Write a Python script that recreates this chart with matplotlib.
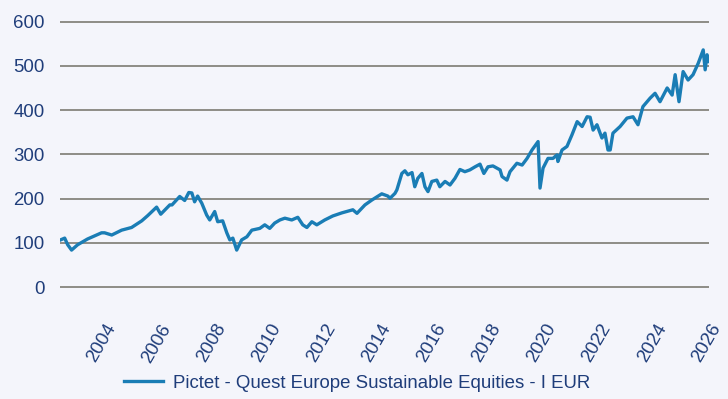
import matplotlib
matplotlib.use("Agg")
import matplotlib.pyplot as plt
import matplotlib.transforms as mtransforms

plt.rcParams['font.family'] = ['Liberation Sans', 'DejaVu Sans']

# fund price index, decimal year vs. value (rebased to 100)
years = [
    2002.80, 2002.95, 2003.06, 2003.20, 2003.42, 2003.78, 2004.29, 2004.40, 2004.66, 2005.02,
    2005.38, 2005.75, 2005.97, 2006.29, 2006.44, 2006.77, 2006.85, 2007.13, 2007.31, 2007.46,
    2007.57, 2007.67, 2007.78, 2007.93, 2008.11, 2008.22, 2008.40, 2008.51, 2008.69, 2008.84,
    2008.95, 2009.06, 2009.20, 2009.38, 2009.57, 2009.75, 2010.04, 2010.22, 2010.40, 2010.58,
    2010.77, 2010.95, 2011.20, 2011.42, 2011.60, 2011.75, 2011.93, 2012.11, 2012.40, 2012.69,
    2013.02, 2013.42, 2013.57, 2013.86, 2014.11, 2014.47, 2014.69, 2014.77, 2014.95, 2015.02,
    2015.20, 2015.31, 2015.42, 2015.57, 2015.67, 2015.78, 2015.93, 2016.04, 2016.15, 2016.29,
    2016.47, 2016.58, 2016.77, 2016.95, 2017.13, 2017.31, 2017.49, 2017.67, 2017.86, 2018.04,
    2018.18, 2018.33, 2018.51, 2018.77, 2018.84, 2019.02, 2019.13, 2019.38, 2019.57, 2019.75,
    2019.93, 2020.15, 2020.22, 2020.33, 2020.51, 2020.69, 2020.84, 2020.87, 2021.02, 2021.20,
    2021.38, 2021.57, 2021.75, 2021.93, 2022.04, 2022.15, 2022.29, 2022.47, 2022.58, 2022.69,
    2022.77, 2022.87, 2023.13, 2023.38, 2023.60, 2023.78, 2023.96, 2024.22, 2024.40, 2024.58,
    2024.84, 2025.02, 2025.13, 2025.27, 2025.42, 2025.60, 2025.78, 2025.97, 2026.15, 2026.22,
    2026.29, 2026.36,
]
values = [
    107, 111, 96, 84, 96, 109, 123, 123, 118, 129,
    135, 150, 162, 181, 165, 186, 186, 205, 196, 214,
    213, 193, 206, 190, 163, 152, 171, 148, 150, 123,
    107, 111, 84, 107, 114, 129, 133, 141, 133, 145,
    152, 156, 152, 158, 141, 135, 148, 141, 152, 161,
    168, 175, 167, 186, 197, 211, 206, 201, 212, 220,
    257, 263, 254, 259, 227, 246, 257, 227, 216, 239,
    242, 227, 239, 231, 246, 266, 261, 265, 272, 278,
    257, 272, 274, 265, 250, 242, 261, 280, 276, 291,
    310, 329, 224, 269, 291, 291, 299, 284, 310, 318,
    344, 374, 363, 385, 384, 355, 367, 337, 348, 310,
    310, 348, 363, 382, 385, 367, 408, 427, 438, 419,
    450, 434, 480, 419, 487, 468, 480, 506, 536, 491,
    525, 510,
]
series_name = 'Pictet - Quest Europe Sustainable Equities - I EUR'
year_ticks = list(range(2004, 2027, 2))
value_ticks = [0, 100, 200, 300, 400, 500, 600]

bg = '#f4f5fb'
text_color = '#1f3d7a'
fs = 13.4

fig = plt.figure(figsize=(7.28, 3.99), dpi=100, facecolor=bg)
ax = fig.add_axes([60 / 728, 0.2689, 649 / 728, 0.6882], facecolor=bg)

ax.plot(years, values, color='#1a7db5', lw=2.4, solid_joinstyle='round',
        label=series_name, zorder=3)

ax.set_xlim(2002.78, 2026.36)
ax.set_ylim(-10, 610)
ax.set_yticks(value_ticks)
ax.set_xticks(year_ticks)
ax.set_xticklabels([str(y) for y in year_ticks])
ax.grid(axis='y', color='#8e8d86', lw=1.4)
ax.grid(axis='x', visible=False)
for s in ax.spines.values():
    s.set_visible(False)

ax.tick_params(axis='y', length=0, pad=11, labelsize=fs, labelcolor=text_color)
ax.tick_params(axis='x', length=0, pad=21, labelsize=fs, labelcolor=text_color)
shift = mtransforms.ScaledTranslation(8 / 100, 0, fig.dpi_scale_trans)
for lbl in ax.get_xticklabels():
    lbl.set_rotation(60)
    lbl.set_ha('center')
    lbl.set_va('top')
    lbl.set_transform(lbl.get_transform() + shift)

leg = fig.legend(loc='center', bbox_to_anchor=(357 / 728, 1 - 383 / 399),
                 frameon=False, fontsize=fs, handlelength=2.1, handletextpad=0.55)
for t in leg.get_texts():
    t.set_color(text_color)

fig.savefig('out.png', dpi=100, facecolor=bg)
